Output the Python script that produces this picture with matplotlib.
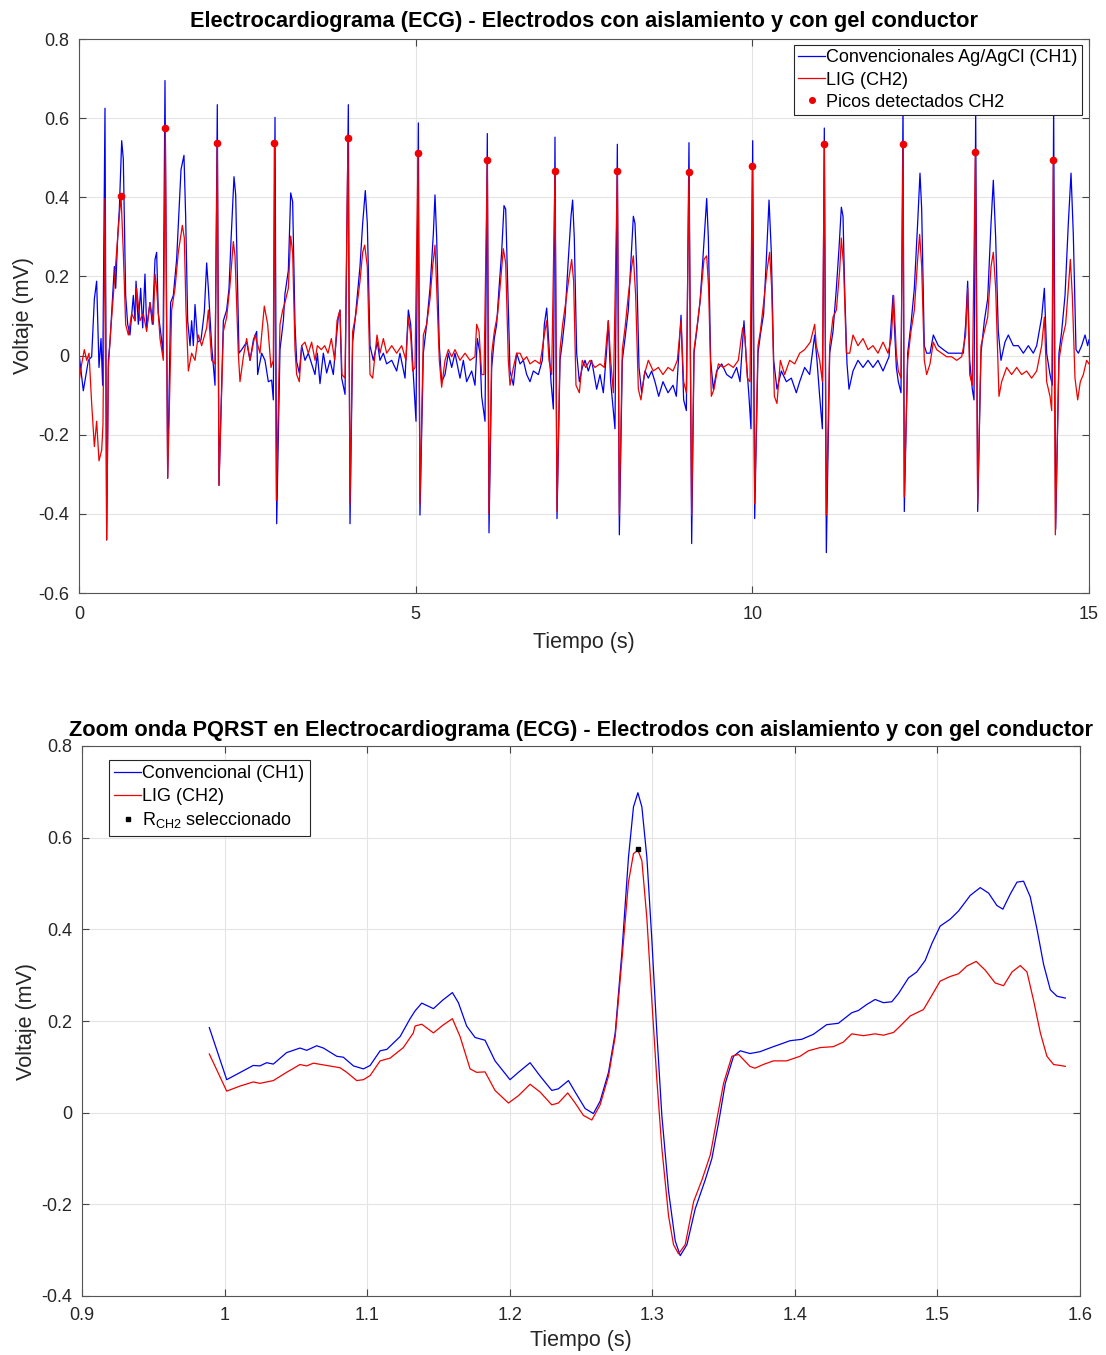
import matplotlib
matplotlib.use('Agg')
import matplotlib.pyplot as plt
from matplotlib.ticker import FuncFormatter

plt.rcParams['font.family'] = ['Liberation Sans', 'DejaVu Sans']
plt.rcParams['axes.unicode_minus'] = False
plt.rcParams['mathtext.fontset'] = 'custom'
plt.rcParams['mathtext.rm'] = 'Liberation Sans'

# --- Señal completa (0-15 s) ---
t_ch1 = [0.000, 0.064, 0.139, 0.188, 0.228, 0.262, 0.297, 0.327, 0.351, 0.386, 0.411, 0.436, 0.460, 0.485,
         0.525, 0.545, 0.574, 0.599, 0.634, 0.658, 0.673, 0.693, 0.723, 0.757, 0.807, 0.832, 0.847, 0.881,
         0.916, 0.946, 0.980, 1.005, 1.054, 1.089, 1.129, 1.153, 1.178, 1.218, 1.248, 1.277, 1.317, 1.361,
         1.401, 1.450, 1.515, 1.559, 1.584, 1.614, 1.649, 1.673, 1.698, 1.723, 1.762, 1.812, 1.861, 1.896,
         1.921, 1.970, 2.020, 2.054, 2.079, 2.144, 2.193, 2.228, 2.257, 2.302, 2.327, 2.376, 2.416, 2.490,
         2.540, 2.590, 2.639, 2.653, 2.713, 2.762, 2.812, 2.861, 2.886, 2.911, 2.936,
         2.985, 3.035, 3.059, 3.109, 3.144, 3.173, 3.208, 3.233, 3.272, 3.307, 3.356, 3.406, 3.455, 3.505,
         3.540, 3.579, 3.629, 3.678, 3.728, 3.777, 3.817, 3.851, 3.876, 3.901, 3.951, 4.000, 4.025, 4.064,
         4.099, 4.173, 4.213, 4.252, 4.282, 4.322, 4.371, 4.431, 4.470, 4.520, 4.569, 4.644, 4.718, 4.767,
         4.842, 4.891, 4.926, 4.965, 5.005, 5.040, 5.064, 5.114, 5.163, 5.213, 5.262, 5.287, 5.312, 5.351,
         5.386, 5.436, 5.485, 5.535, 5.584, 5.658, 5.708, 5.757, 5.832, 5.881, 5.916, 5.955, 5.980, 6.030,
         6.064,
         6.089, 6.129, 6.168, 6.203, 6.238, 6.277, 6.312, 6.337, 6.366, 6.401, 6.451, 6.500, 6.550, 6.599,
         6.649, 6.698, 6.748, 6.822, 6.881, 6.911, 6.946, 6.980, 7.010, 7.045, 7.069, 7.099, 7.144, 7.178,
         7.218, 7.267, 7.307, 7.331, 7.356, 7.391, 7.431, 7.475, 7.515, 7.564, 7.614, 7.688, 7.738, 7.787,
         7.837, 7.861, 7.896, 7.936, 7.960, 7.995, 8.025, 8.069, 8.109, 8.158, 8.193, 8.233, 8.257, 8.282,
         8.317, 8.356, 8.406, 8.455, 8.505, 8.554, 8.609, 8.673, 8.748, 8.822, 8.871, 8.941, 8.980, 9.020,
         9.059,
         9.099, 9.134, 9.173, 9.223, 9.272, 9.322, 9.347, 9.381, 9.421, 9.470, 9.545, 9.619, 9.693, 9.767,
         9.817, 9.876, 9.911, 9.950, 9.980, 10.005, 10.035, 10.084, 10.119, 10.168, 10.208, 10.248, 10.282,
         10.317, 10.366, 10.431, 10.505, 10.579, 10.653, 10.703, 10.777, 10.851, 10.926, 10.960, 11.000,
         11.040, 11.069, 11.099, 11.149, 11.198, 11.248, 11.287, 11.322, 11.347, 11.371, 11.406, 11.436,
         11.495, 11.569, 11.644, 11.718, 11.792, 11.866, 11.941, 12.030, 12.089, 12.139,
         12.168, 12.208, 12.238, 12.257, 12.307, 12.356, 12.406, 12.455, 12.490, 12.515, 12.554, 12.589,
         12.639, 12.688, 12.762, 12.837, 12.911, 12.985, 13.059, 13.134, 13.168, 13.198, 13.228, 13.267,
         13.292, 13.317, 13.347, 13.396, 13.446, 13.495, 13.545, 13.579, 13.614, 13.653, 13.693, 13.752,
         13.802, 13.876, 13.951, 14.025, 14.099, 14.173, 14.223, 14.297, 14.337, 14.371, 14.421, 14.455,
         14.475, 14.505, 14.554, 14.594, 14.644, 14.693, 14.733, 14.767, 14.807, 14.842, 14.891, 14.941,
         14.980, 15.000]
v_ch1 = [0.006, -0.089, -0.012, -0.003, 0.143, 0.188, -0.030, 0.043, -0.075, 0.625, -0.466, -0.012, 0.034, 0.106,
         0.225, 0.170, 0.297, 0.370, 0.543, 0.497, 0.352, 0.152, 0.079, 0.052, 0.152, 0.088, 0.188, 0.079,
         0.170, 0.070, 0.206, 0.070, 0.134, 0.079, 0.243, 0.261, 0.106, 0.052, 0.006, 0.695, -0.310, 0.134,
         0.152, 0.243, 0.470, 0.506, 0.352, 0.088, 0.025, 0.088, 0.025, 0.129, 0.034, 0.040, 0.110, 0.234,
         0.170, 0.025, -0.075, 0.634, -0.328, 0.088, 0.115, 0.170, 0.288, 0.452, 0.406, 0.006, 0.015, 0.034,
         -0.012, 0.040, 0.061, -0.048, 0.006, -0.012, -0.066, -0.062, -0.112, 0.602, -0.425,
         0.015, 0.088, 0.156, 0.215, 0.411, 0.389, 0.079, -0.016, -0.044, 0.025, -0.012, 0.006, -0.021, -0.048,
         0.006, -0.071, 0.006, -0.044, -0.012, -0.048, 0.034, 0.097, 0.115, -0.057, -0.098, 0.634, -0.425, 0.034,
         0.088, 0.225, 0.334, 0.417, 0.334, 0.025, -0.012, 0.034, -0.012, 0.006, -0.021, -0.012, -0.039, 0.006,
         -0.057, 0.115, 0.079, -0.048, -0.166, 0.588, -0.403, 0.006, 0.079, 0.170, 0.306, 0.406, 0.297, 0.025,
         -0.066, -0.048, 0.006, -0.030, 0.006, -0.057, -0.012, -0.066, -0.039, -0.075, 0.043, 0.006, -0.103, -0.166,
         0.561,
         -0.448, -0.030, 0.043, 0.079, 0.170, 0.261, 0.379, 0.370, 0.188, -0.039, -0.075, 0.006, -0.021, -0.012,
         -0.048, -0.066, -0.039, -0.048, -0.012, 0.079, 0.120, 0.025, -0.066, -0.135, 0.552, -0.412, -0.012, 0.034,
         0.097, 0.243, 0.352, 0.393, 0.297, 0.006, -0.066, -0.030, -0.012, -0.039, -0.012, -0.085, -0.048, -0.094,
         0.015, 0.088, -0.066, -0.139, -0.185, 0.534, -0.453, -0.012, 0.043, 0.115, 0.225, 0.352, 0.334, 0.225,
         -0.030, -0.094, -0.039, -0.057, -0.039, -0.066, -0.103, -0.066, -0.094, -0.075, -0.103, 0.102, -0.112, -0.139,
         0.538,
         -0.475, 0.006, 0.061, 0.134, 0.261, 0.397, 0.297, -0.012, -0.085, -0.039, -0.021, -0.048, -0.057, -0.030,
         -0.066, 0.088, -0.012, -0.103, -0.185, 0.543, -0.412, 0.006, 0.052, 0.106, 0.243, 0.393, 0.261,
         -0.012, -0.085, -0.039, -0.066, -0.057, -0.094, -0.066, -0.030, -0.048, 0.052, -0.012, -0.103,
         -0.185, 0.575, -0.498, 0.006, 0.061, 0.170, 0.270, 0.375, 0.352, 0.170, -0.021, -0.085,
         -0.039, -0.012, -0.030, -0.012, -0.030, -0.012, -0.039, -0.003, 0.152, -0.030,
         -0.066, -0.094, 0.640, -0.394, 0.006, 0.079, 0.170, 0.334, 0.461, 0.370, 0.025, 0.006,
         0.006, 0.052, 0.025, 0.015, 0.006, 0.006, 0.006, 0.006, 0.079, 0.188, -0.012, -0.085,
         -0.112, 0.620, -0.394, 0.006, 0.088, 0.143, 0.334, 0.443, 0.297, 0.061, -0.012, 0.034,
         0.052, 0.025, 0.025, 0.006, 0.025, 0.006, 0.025, 0.097, 0.170, 0.006, -0.048, -0.075,
         0.630, -0.439, 0.006, 0.061, 0.152, 0.334, 0.461, 0.306, 0.015, 0.006, 0.025, 0.052,
         0.025, 0.040]

t_ch2 = [0.000, 0.040, 0.079, 0.114, 0.149, 0.188, 0.228, 0.262, 0.297, 0.337, 0.356, 0.386, 0.411, 0.436,
         0.470, 0.510, 0.559, 0.594, 0.624, 0.658, 0.693, 0.733, 0.782, 0.832, 0.856, 0.906, 0.955, 1.005,
         1.054, 1.104, 1.129, 1.153, 1.203, 1.252, 1.282, 1.317, 1.376, 1.426, 1.475, 1.535, 1.564, 1.589,
         1.624, 1.673, 1.723, 1.772, 1.822, 1.896, 1.921, 1.970, 2.020, 2.054, 2.079, 2.144, 2.193, 2.243,
         2.292, 2.317, 2.366, 2.391, 2.441, 2.490, 2.540, 2.614, 2.688, 2.752, 2.802, 2.851, 2.886, 2.901,
         2.931,
         2.985, 3.025, 3.059, 3.109, 3.144, 3.173, 3.208, 3.233, 3.272, 3.307, 3.356, 3.406, 3.455, 3.505,
         3.540, 3.599, 3.649, 3.698, 3.748, 3.797, 3.832, 3.876, 3.906, 3.951, 3.995, 4.025, 4.064, 4.114,
         4.173, 4.213, 4.243, 4.282, 4.322, 4.361, 4.426, 4.470, 4.520, 4.569, 4.644, 4.718, 4.792, 4.856,
         4.891, 4.926, 4.955, 4.990, 5.035, 5.064, 5.114, 5.163, 5.213, 5.252, 5.287, 5.312, 5.351, 5.386,
         5.436, 5.485, 5.535, 5.584, 5.658, 5.733, 5.807, 5.881, 5.906, 5.941, 5.980, 6.015, 6.064,
         6.089, 6.129, 6.168, 6.218, 6.252, 6.302, 6.337, 6.376, 6.401, 6.451, 6.500, 6.550, 6.599, 6.649,
         6.698, 6.772, 6.847, 6.911, 6.946, 6.980, 7.020, 7.069, 7.099, 7.144, 7.183, 7.228, 7.277, 7.317,
         7.346, 7.381, 7.431, 7.475, 7.525, 7.589, 7.663, 7.738, 7.802, 7.837, 7.861, 7.896, 7.936, 7.995,
         8.025, 8.069, 8.109, 8.158, 8.208, 8.233, 8.267, 8.307, 8.346, 8.396, 8.455, 8.529, 8.604, 8.673,
         8.748, 8.822, 8.886, 8.941, 8.980, 9.020, 9.059,
         9.099, 9.134, 9.183, 9.233, 9.282, 9.322, 9.351, 9.391, 9.431, 9.495, 9.569, 9.644, 9.718, 9.792,
         9.856, 9.891, 9.926, 9.965, 10.000, 10.035, 10.084, 10.119, 10.168, 10.218, 10.257, 10.287, 10.327,
         10.366, 10.416, 10.480, 10.554, 10.629, 10.703, 10.777, 10.861, 10.926, 10.950, 11.000, 11.040,
         11.069, 11.099, 11.149, 11.198, 11.248, 11.297, 11.322, 11.356, 11.396, 11.446, 11.495, 11.569,
         11.644, 11.718, 11.792, 11.866, 11.941, 12.015, 12.064, 12.099, 12.139,
         12.168, 12.208, 12.238, 12.257, 12.307, 12.356, 12.406, 12.455, 12.485, 12.515, 12.554, 12.589,
         12.639, 12.688, 12.738, 12.812, 12.886, 12.960, 13.035, 13.109, 13.168, 13.198, 13.228, 13.267,
         13.312, 13.347, 13.396, 13.446, 13.495, 13.545, 13.579, 13.614, 13.663, 13.703, 13.777, 13.851,
         13.926, 14.000, 14.074, 14.148, 14.223, 14.297, 14.337, 14.371, 14.421, 14.446, 14.470, 14.500,
         14.554, 14.604, 14.653, 14.693, 14.723, 14.752, 14.792, 14.832, 14.871, 14.916, 14.965, 15.000]
v_ch2 = [-0.066, -0.021, 0.015, -0.012, 0.006, -0.121, -0.230, -0.166, -0.266, -0.239, -0.175, 0.397, -0.466, -0.030,
         0.061, 0.152, 0.261, 0.343, 0.404, 0.261, 0.079, 0.052, 0.106, 0.088, 0.170, 0.088, 0.106, 0.061,
         0.134, 0.079, 0.206, 0.170, 0.043, -0.012, 0.575, -0.310, 0.115, 0.170, 0.261, 0.329, 0.297, 0.115,
         -0.039, 0.006, -0.012, 0.052, 0.025, 0.070, 0.115, -0.012, -0.021, 0.536, -0.328, 0.061, 0.097, 0.179,
         0.288, 0.252, 0.006, -0.066, -0.003, 0.043, -0.012, 0.052, 0.006, 0.125, 0.079, -0.030, -0.012, 0.536,
         -0.366,
         0.079, 0.115, 0.134, 0.170, 0.302, 0.261, 0.015, -0.048, -0.066, 0.025, 0.034, 0.006, 0.034, -0.012,
         0.025, 0.015, 0.025, 0.006, 0.043, -0.012, 0.088, 0.115, -0.048, -0.057, 0.550, -0.375, 0.061, 0.106,
         0.188, 0.261, 0.279, 0.225, -0.048, -0.057, 0.052, 0.006, 0.043, 0.006, 0.025, 0.006, 0.025, -0.012,
         0.097, 0.052, -0.039, -0.030, 0.513, -0.375, 0.052, 0.079, 0.143, 0.225, 0.279, 0.170, -0.012, -0.080,
         -0.012, 0.015, -0.003, 0.015, -0.012, 0.006, -0.012, -0.003, 0.079, 0.061, -0.048, -0.048, 0.495,
         -0.400, 0.006, 0.061, 0.106, 0.170, 0.270, 0.234, -0.012, -0.075, -0.030, 0.006, 0.006, -0.012, -0.003,
         -0.021, -0.012, -0.021, 0.052, 0.088, -0.012, -0.048, 0.466, -0.394, 0.015, 0.079, 0.134, 0.197, 0.243,
         0.188, -0.075, -0.094, -0.012, -0.030, -0.012, -0.030, -0.021, -0.030, 0.043, 0.088, -0.012, -0.094, 0.466,
         -0.403, 0.015, 0.070, 0.152, 0.225, 0.252, 0.152, -0.085, -0.112, -0.048, -0.012, -0.039, -0.030, -0.048,
         -0.030, -0.039, -0.012, 0.088, -0.066, -0.094, 0.464,
         -0.403, 0.015, 0.079, 0.152, 0.243, 0.252, 0.170, -0.103, -0.085, -0.021, -0.030, -0.021, -0.030, -0.012,
         0.070, 0.043, -0.057, -0.066, 0.479, -0.375, 0.025, 0.061, 0.134, 0.215, 0.261, 0.170, -0.103,
         -0.121, -0.012, -0.048, -0.012, -0.021, 0.006, 0.015, 0.034, 0.079, 0.025, -0.012, -0.066,
         0.535, -0.403, 0.025, 0.097, 0.115, 0.215, 0.297, 0.225, 0.006, 0.006, 0.052, 0.025,
         0.043, 0.015, 0.025, 0.006, 0.034, 0.006, 0.043, 0.152, 0.006,
         -0.039, -0.057, 0.535, -0.357, -0.012, 0.061, 0.115, 0.243, 0.306, 0.225, -0.012, -0.048,
         -0.021, 0.034, 0.015, 0.006, -0.003, -0.003, -0.012, -0.003, 0.052, 0.170, -0.048, -0.075,
         0.515, -0.375, 0.025, 0.061, 0.097, 0.225, 0.261, 0.170, -0.103, -0.066, -0.030, -0.048,
         -0.030, -0.048, -0.039, -0.057, -0.039, 0.025, 0.097, -0.066, -0.103, -0.139, 0.493, -0.453,
         -0.012, 0.043, 0.079, 0.170, 0.243, 0.152, -0.057, -0.112, -0.066, -0.048, -0.012, -0.021]

# picos R detectados en CH2
peak_t = [0.624, 1.282, 2.054, 2.901, 3.995, 5.035, 6.064, 7.069, 7.995, 9.059, 10.000, 11.069, 12.238, 13.312, 14.470]
peak_v = [0.404, 0.575, 0.536, 0.536, 0.550, 0.513, 0.495, 0.466, 0.466, 0.464, 0.479, 0.535, 0.535, 0.515, 0.493]

# --- Zoom de un latido PQRST ---
zt_ch1 = [0.9893, 1.0015, 1.0201, 1.0248, 1.0295, 1.0342, 1.0435, 1.0529, 1.0576, 1.0646, 1.0693, 1.0787,
          1.0833, 1.0904, 1.0974, 1.1021, 1.1091, 1.1138, 1.1231, 1.1301,
          1.1336, 1.1383, 1.1465, 1.1532, 1.1598, 1.1640, 1.1698, 1.1757, 1.1827, 1.1897, 1.2002, 1.2061,
          1.2143, 1.2213, 1.2295, 1.2341, 1.2412, 1.2459, 1.2529, 1.2587, 1.2634, 1.2693, 1.2740, 1.2786,
          1.2833, 1.2868, 1.2899, 1.2927, 1.2962, 1.2997, 1.3032, 1.3067, 1.3114, 1.3161, 1.3196, 1.3243,
          1.3301, 1.3371, 1.3418, 1.3465, 1.3512, 1.3570, 1.3617,
          1.3685, 1.3755, 1.3849, 1.3895, 1.3966, 1.4048, 1.4130, 1.4223, 1.4305, 1.4399, 1.4446, 1.4504,
          1.4563, 1.4621, 1.4680, 1.4727, 1.4797, 1.4855, 1.4914, 1.4961, 1.5019, 1.5089, 1.5148, 1.5230,
          1.5300, 1.5359, 1.5417, 1.5459, 1.5511, 1.5558, 1.5604, 1.5651, 1.5698, 1.5745, 1.5792, 1.5839,
          1.5897]
zv_ch1 = [0.1855, 0.072, 0.103, 0.102, 0.109, 0.106, 0.131, 0.141, 0.136, 0.146, 0.141, 0.123,
          0.121, 0.102, 0.0955, 0.103, 0.135, 0.138, 0.166, 0.205,
          0.222, 0.239, 0.227, 0.246, 0.262, 0.240, 0.189, 0.164, 0.158, 0.113, 0.072, 0.088,
          0.109, 0.080, 0.0485, 0.052, 0.070, 0.045, 0.009, -0.002, 0.025, 0.088, 0.174, 0.346,
          0.557, 0.667, 0.698, 0.667, 0.557, 0.377, 0.174, -0.006, -0.171, -0.280, -0.312, -0.288,
          -0.210, -0.147, -0.100, -0.022, 0.064, 0.123, 0.135,
          0.129, 0.133, 0.144, 0.149, 0.157, 0.160, 0.171, 0.192, 0.195, 0.218, 0.223, 0.236,
          0.247, 0.240, 0.242, 0.260, 0.294, 0.307, 0.332, 0.369, 0.407, 0.422, 0.440, 0.474,
          0.491, 0.479, 0.452, 0.444, 0.477, 0.503, 0.505, 0.471, 0.401, 0.323, 0.268, 0.254,
          0.250]

zt_ch2 = [0.9893, 1.0015, 1.0108, 1.0201, 1.0248, 1.0342, 1.0435, 1.0529, 1.0576, 1.0623, 1.0716, 1.0810,
          1.0857, 1.0927, 1.0974, 1.1021, 1.1091, 1.1161, 1.1254, 1.1324,
          1.1336, 1.1383, 1.1465, 1.1532, 1.1598, 1.1652, 1.1722, 1.1768, 1.1827, 1.1897, 1.1991, 1.2061,
          1.2143, 1.2213, 1.2295, 1.2341, 1.2407, 1.2459, 1.2517, 1.2576, 1.2634, 1.2693, 1.2740, 1.2786,
          1.2833, 1.2868, 1.2899, 1.2927, 1.2962, 1.2997, 1.3032, 1.3067, 1.3114, 1.3149, 1.3184, 1.3231,
          1.3290, 1.3348, 1.3407, 1.3453, 1.3500, 1.3558, 1.3605,
          1.3685, 1.3720, 1.3778, 1.3849, 1.3942, 1.4036, 1.4095, 1.4177, 1.4270, 1.4340, 1.4399, 1.4481,
          1.4563, 1.4621, 1.4692, 1.4739, 1.4809, 1.4902, 1.4961, 1.5019, 1.5089, 1.5148, 1.5207, 1.5272,
          1.5335, 1.5405, 1.5464, 1.5523, 1.5581, 1.5628, 1.5675, 1.5722, 1.5768, 1.5815, 1.5862, 1.5897]
zv_ch2 = [0.128, 0.047, 0.058, 0.067, 0.064, 0.070, 0.088, 0.105, 0.102, 0.108, 0.103, 0.098,
          0.088, 0.070, 0.072, 0.081, 0.113, 0.119, 0.142, 0.174,
          0.189, 0.193, 0.174, 0.191, 0.205, 0.166, 0.0955, 0.088, 0.089, 0.0485, 0.021, 0.037,
          0.062, 0.045, 0.017, 0.021, 0.043, 0.021, -0.006, -0.016, 0.017, 0.080, 0.166, 0.330,
          0.503, 0.565, 0.573, 0.550, 0.424, 0.244, 0.072, -0.077, -0.225, -0.288, -0.308, -0.288,
          -0.194, -0.147, -0.092, -0.014, 0.064, 0.123, 0.127,
          0.101, 0.097, 0.105, 0.113, 0.113, 0.123, 0.135, 0.142, 0.144, 0.154, 0.172, 0.168,
          0.172, 0.169, 0.175, 0.189, 0.211, 0.225, 0.256, 0.287, 0.297, 0.303, 0.320, 0.330,
          0.311, 0.283, 0.277, 0.307, 0.321, 0.307, 0.244, 0.174, 0.123, 0.105, 0.103, 0.101]

rsel_t = [1.290]
rsel_v = [0.576]

BLUE = '#0000f0'
RED = '#f00000'


def fmt(v, pos):
    v = round(v, 6)
    if v == 0:
        return '0'
    return '%g' % v


def estilo(ax):
    ax.grid(True, color='#e4e4e4', linewidth=0.8)
    ax.set_axisbelow(True)
    for s in ax.spines.values():
        s.set_color('#555555')
        s.set_linewidth(0.8)
    ax.tick_params(direction='in', length=5, width=0.8, color='#444444',
                   top=True, right=True, labelsize=13, labelcolor='#262626')
    ax.tick_params(axis='x', pad=9)
    ax.tick_params(axis='y', pad=7)
    ax.xaxis.set_major_formatter(FuncFormatter(fmt))
    ax.yaxis.set_major_formatter(FuncFormatter(fmt))


fig = plt.figure(figsize=(11.06, 13.55), dpi=100)

# ---- grafico 1 ----
ax1 = fig.add_axes([79 / 1106, 1 - 593 / 1355, 1010 / 1106, 554 / 1355])
ax1.plot(t_ch1, v_ch1, color=BLUE, linewidth=0.9, label='Convencionales Ag/AgCl (CH1)')
ax1.plot(t_ch2, v_ch2, color=RED, linewidth=0.9, label='LIG (CH2)')
ax1.plot(peak_t, peak_v, 'o', color=RED, markersize=4.5, linestyle='none', label='Picos detectados CH2')
ax1.set_xlim(0, 15)
ax1.set_ylim(-0.6, 0.8)
ax1.set_xticks([0, 5, 10, 15])
ax1.set_yticks([-0.6, -0.4, -0.2, 0, 0.2, 0.4, 0.6, 0.8])
estilo(ax1)
ax1.set_title('Electrocardiograma (ECG) - Electrodos con aislamiento y con gel conductor',
              fontsize=15.7, fontweight='bold', pad=8.5)
ax1.set_xlabel('Tiempo (s)', fontsize=15.5, color='#262626', labelpad=7)
ax1.set_ylabel('Voltaje (mV)', fontsize=15.5, color='#262626', labelpad=3)
leg1 = ax1.legend(loc='upper right', bbox_to_anchor=(0.9931, 0.9892), borderaxespad=0,
                  fontsize=13, fancybox=False, framealpha=1, edgecolor='#262626',
                  handlelength=1.5, handletextpad=0.05, borderpad=0.25, labelspacing=0.28, markerscale=0.9)
leg1.get_frame().set_linewidth(0.8)

# ---- grafico 2 ----
ax2 = fig.add_axes([82 / 1106, 1 - 1296 / 1355, 998 / 1106, 550 / 1355])
ax2.plot(zt_ch1, zv_ch1, color=BLUE, linewidth=0.9, label='Convencional (CH1)')
ax2.plot(zt_ch2, zv_ch2, color=RED, linewidth=0.9, label='LIG (CH2)')
ax2.plot(rsel_t, rsel_v, 's', color='black', markersize=3.5, linestyle='none',
         label=r'R$_\mathregular{CH2}$ seleccionado')
ax2.set_xlim(0.9, 1.6)
ax2.set_ylim(-0.4, 0.8)
ax2.set_xticks([0.9, 1.0, 1.1, 1.2, 1.3, 1.4, 1.5, 1.6])
ax2.set_yticks([-0.4, -0.2, 0, 0.2, 0.4, 0.6, 0.8])
estilo(ax2)
ax2.tick_params(axis='x', pad=8)
ax2.set_title('Zoom onda PQRST en Electrocardiograma (ECG) - Electrodos con aislamiento y con gel conductor',
              fontsize=15.7, fontweight='bold', pad=7)
ax2.set_xlabel('Tiempo (s)', fontsize=15.5, color='#262626', labelpad=4)
ax2.set_ylabel('Voltaje (mV)', fontsize=15.5, color='#262626', labelpad=3)
leg2 = ax2.legend(loc='upper left', bbox_to_anchor=(0.027, 0.9745), borderaxespad=0,
                  fontsize=13, fancybox=False, framealpha=1, edgecolor='#262626',
                  handlelength=1.5, handletextpad=0.05, borderpad=0.3, labelspacing=0.3)
leg2.get_frame().set_linewidth(0.8)

fig.savefig('out.png', dpi=100)
